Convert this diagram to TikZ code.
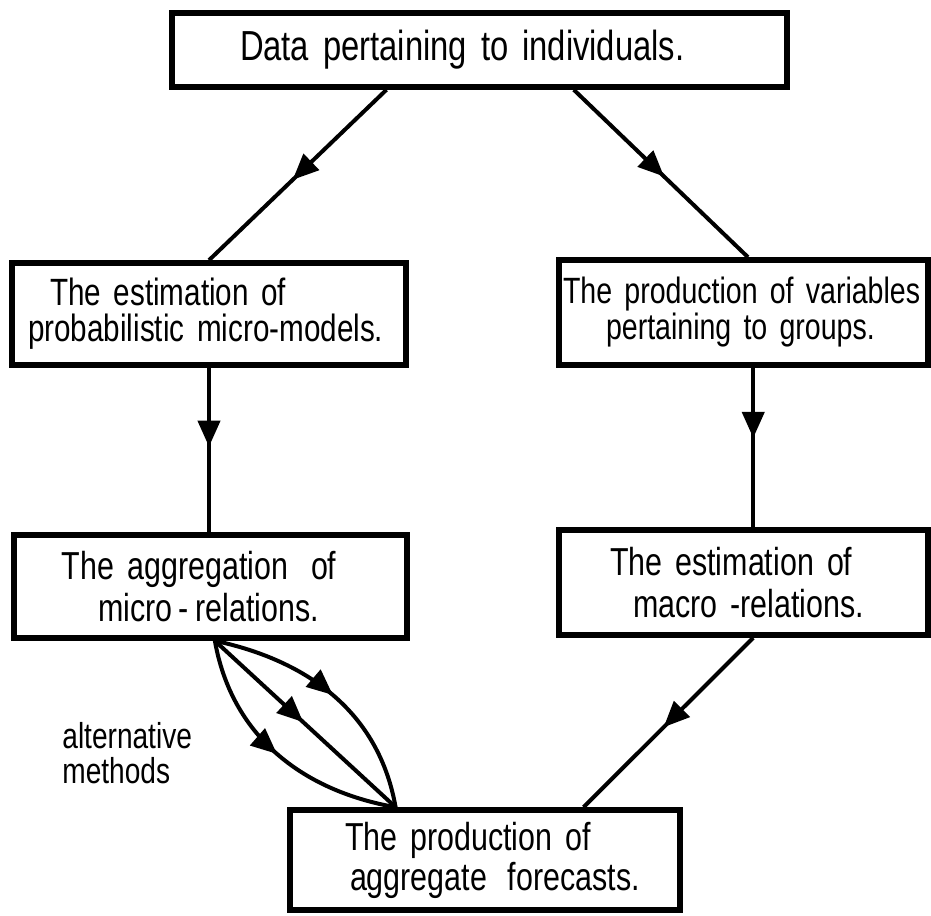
\documentclass[tikz,border=0pt]{standalone}
\usepackage{fontspec}
\setmainfont{Liberation Sans}[FakeStretch=0.78]
\usetikzlibrary{arrows.meta,decorations.markings,calc}
\begin{document}
\begin{tikzpicture}[x=0.5pt,y=0.5pt,
  box/.style={draw, line width=2.8pt, inner xsep=0pt, inner ysep=0pt, align=left},
  conn/.style={line width=2pt},
  midarrow/.style={postaction={decorate}, decoration={markings, mark=at position #1 with {\arrow{Triangle[length=13pt,width=11pt]}}}},
  fA/.style={font=\fontsize{19pt}{18pt}\selectfont},
  fB/.style={font=\fontsize{19.5pt}{21pt}\selectfont},
  fC/.style={font=\fontsize{18pt}{17.5pt}\selectfont}]
\useasboundingbox (0,0) rectangle (931,-915);

\node[box, font=\fontsize{21pt}{21pt}\selectfont, text width=307.5pt, minimum height=37pt] (T) at (479.5,-50)
  {\hspace*{34pt}Data pertaining to individuals.};
\node[box, fA, text width=197pt, minimum height=51pt] (L2) at (209,-314)
  {\hspace*{19pt}\mbox{The estimation of}\\\hspace*{8pt}\mbox{probabilistic micro-models.}};
\node[box, font=\fontsize{18.3pt}{18pt}\selectfont, text width=184.5pt, minimum height=52.5pt] (R2) at (743.5,-312.5)
  {\hspace*{2pt}\mbox{The production of variables}\\\hspace*{23.5pt}\mbox{pertaining to groups.}};
\node[box, fB, text width=196.5pt, minimum height=51.5pt] (L3) at (210.5,-586.5)
  {\hspace*{24pt}\mbox{The aggregation\hspace{5pt} of}\\\hspace*{42pt}\mbox{micro\,-\,relations.}};
\node[box, fB, text width=184.5pt, minimum height=52.5pt] (R3) at (743.5,-582.5)
  {\hspace*{25.5pt}\mbox{The estimation of}\\\hspace*{37pt}\mbox{macro -relations.}};
\node[box, font=\fontsize{19.5pt}{20pt}\selectfont, text width=195pt, minimum height=50pt] (B) at (485,-860)
  {\hspace*{27.5pt}\mbox{The production of}\\\hspace*{30pt}\mbox{aggregate\hspace{4pt} forecasts.}};
\node[fC, align=left, anchor=north west, inner sep=0pt] (alt) at (62,-722)
  {alternative\\methods};

\coordinate (t1) at ($(T.south west)!0.35!(T.south east)$);
\coordinate (t2) at ($(T.south west)!0.652!(T.south east)$);
\coordinate (r2n) at ($(R2.north west)!0.512!(R2.north east)$);
\coordinate (r2s) at ($(R2.south west)!0.526!(R2.south east)$);
\coordinate (r3s) at ($(R3.south west)!0.526!(R3.south east)$);
\coordinate (bn1) at ($(B.north west)!0.274!(B.north east)$);
\coordinate (bn2) at ($(B.north west)!0.749!(B.north east)$);
\coordinate (l3s) at ($(L3.south west)!0.511!(L3.south east)$);

\draw[conn, midarrow=0.53] (t1) -- (L2.north);
\draw[conn, midarrow=0.52] (t2) -- (r2n);
\draw[conn, midarrow=0.48] (L2.south) -- (L2.south |- L3.north);
\draw[conn, midarrow=0.44] (r2s) -- (r2s |- R3.north);
\draw[conn, midarrow=0.53] (r3s) -- (bn2);
\draw[conn, midarrow=0.5] (l3s) to[out=-12, in=100] (bn1);
\draw[conn, midarrow=0.49] (l3s) -- (bn1);
\draw[conn, midarrow=0.5] (l3s) to[out=-80, in=170] (bn1);
\end{tikzpicture}
\end{document}
